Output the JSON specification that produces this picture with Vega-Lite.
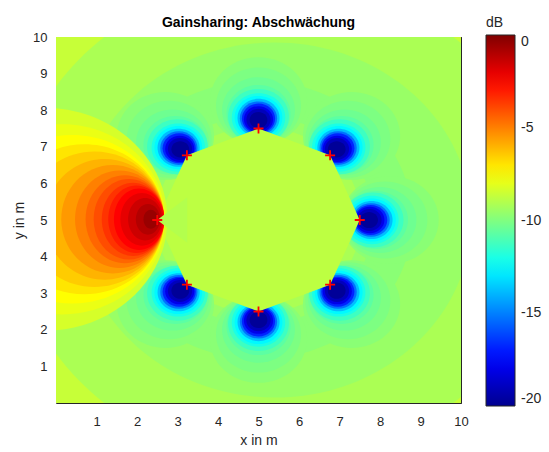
{
"$schema":"https://vega.github.io/schema/vega-lite/v6.json",
"width":405,"height":366,
"autosize":{"type":"none"},
"padding":{"left":56,"top":37,"right":88,"bottom":49},
"background":"white",
"title":{"text":"Gainsharing: Abschwächung","fontSize":14,"fontWeight":"bold","font":"Liberation Sans","color":"#000000","offset":8,"dy":22,"anchor":"middle"},
"datasets":{
"h1":[{"x":8.25,"y":5,"v":-9.8},{"x":7.298,"y":7.298,"v":-9.8},{"x":5,"y":8.25,"v":-9.8},{"x":2.702,"y":7.298,"v":-9.8},{"x":2.702,"y":2.702,"v":-9.8},{"x":5,"y":1.75,"v":-9.8},{"x":7.298,"y":2.702,"v":-9.8}],
"h2":[{"x":8.12,"y":5,"v":-10.05},{"x":7.206,"y":7.206,"v":-10.05},{"x":5,"y":8.12,"v":-10.05},{"x":2.794,"y":7.206,"v":-10.05},{"x":2.794,"y":2.794,"v":-10.05},{"x":5,"y":1.88,"v":-10.05},{"x":7.206,"y":2.794,"v":-10.05}],
"h3":[{"x":8,"y":5,"v":-10.35},{"x":7.122,"y":7.122,"v":-10.35},{"x":5,"y":8,"v":-10.35},{"x":2.878,"y":7.122,"v":-10.35},{"x":2.878,"y":2.878,"v":-10.35},{"x":5,"y":2,"v":-10.35},{"x":7.122,"y":2.878,"v":-10.35}],
"h4":[{"x":7.9,"y":5,"v":-10.7},{"x":7.051,"y":7.051,"v":-10.7},{"x":5,"y":7.9,"v":-10.7},{"x":2.949,"y":7.051,"v":-10.7},{"x":2.949,"y":2.949,"v":-10.7},{"x":5,"y":2.1,"v":-10.7},{"x":7.051,"y":2.949,"v":-10.7}],
"h5":[{"x":7.83,"y":5,"v":-11.3},{"x":7.001,"y":7.001,"v":-11.3},{"x":5,"y":7.83,"v":-11.3},{"x":2.999,"y":7.001,"v":-11.3},{"x":2.999,"y":2.999,"v":-11.3},{"x":5,"y":2.17,"v":-11.3},{"x":7.001,"y":2.999,"v":-11.3}],
"h6":[{"x":7.8,"y":5,"v":-12.0},{"x":6.98,"y":6.98,"v":-12.0},{"x":5,"y":7.8,"v":-12.0},{"x":3.02,"y":6.98,"v":-12.0},{"x":3.02,"y":3.02,"v":-12.0},{"x":5,"y":2.2,"v":-12.0},{"x":6.98,"y":3.02,"v":-12.0}],
"h7":[{"x":7.8,"y":5,"v":-12.6},{"x":6.98,"y":6.98,"v":-12.6},{"x":5,"y":7.8,"v":-12.6},{"x":3.02,"y":6.98,"v":-12.6},{"x":3.02,"y":3.02,"v":-12.6},{"x":5,"y":2.2,"v":-12.6},{"x":6.98,"y":3.02,"v":-12.6}],
"h8":[{"x":7.79,"y":5,"v":-13.8},{"x":6.973,"y":6.973,"v":-13.8},{"x":5,"y":7.79,"v":-13.8},{"x":3.027,"y":6.973,"v":-13.8},{"x":3.027,"y":3.027,"v":-13.8},{"x":5,"y":2.21,"v":-13.8},{"x":6.973,"y":3.027,"v":-13.8}],
"h9":[{"x":7.78,"y":5,"v":-15.3},{"x":6.966,"y":6.966,"v":-15.3},{"x":5,"y":7.78,"v":-15.3},{"x":3.034,"y":6.966,"v":-15.3},{"x":3.034,"y":3.034,"v":-15.3},{"x":5,"y":2.22,"v":-15.3},{"x":6.966,"y":3.034,"v":-15.3}],
"h10":[{"x":7.77,"y":5,"v":-16.8},{"x":6.959,"y":6.959,"v":-16.8},{"x":5,"y":7.77,"v":-16.8},{"x":3.041,"y":6.959,"v":-16.8},{"x":3.041,"y":3.041,"v":-16.8},{"x":5,"y":2.23,"v":-16.8},{"x":6.959,"y":3.041,"v":-16.8}],
"h11":[{"x":7.75,"y":5,"v":-18.0},{"x":6.945,"y":6.945,"v":-18.0},{"x":5,"y":7.75,"v":-18.0},{"x":3.055,"y":6.945,"v":-18.0},{"x":3.055,"y":3.055,"v":-18.0},{"x":5,"y":2.25,"v":-18.0},{"x":6.945,"y":3.055,"v":-18.0}],
"h12":[{"x":7.74,"y":5,"v":-19.0},{"x":6.938,"y":6.938,"v":-19.0},{"x":5,"y":7.74,"v":-19.0},{"x":3.062,"y":6.938,"v":-19.0},{"x":3.062,"y":3.062,"v":-19.0},{"x":5,"y":2.26,"v":-19.0},{"x":6.938,"y":3.062,"v":-19.0}],
"h13":[{"x":7.73,"y":5,"v":-19.8},{"x":6.931,"y":6.931,"v":-19.8},{"x":5,"y":7.73,"v":-19.8},{"x":3.069,"y":6.931,"v":-19.8},{"x":3.069,"y":3.069,"v":-19.8},{"x":5,"y":2.27,"v":-19.8},{"x":6.931,"y":3.069,"v":-19.8}],
"sensors":[{"x":7.5,"y":5},{"x":6.768,"y":6.768},{"x":5,"y":7.5},{"x":3.232,"y":6.768},{"x":2.5,"y":5},{"x":3.232,"y":3.232},{"x":5,"y":2.5},{"x":6.768,"y":3.232}]
},
"layer":[
{
"encoding":{
"x":{"field":"x","type":"quantitative","scale":{"domain":[0,10],"nice":false,"zero":false},"axis":{"values":[1,2,3,4,5,6,7,8,9,10],"title":"x in m","labelPadding":17,"titlePadding":5,"labelFlush":false}},
"y":{"field":"y","type":"quantitative","scale":{"domain":[0,10],"nice":false,"zero":false},"axis":{"values":[1,2,3,4,5,6,7,8,9,10],"title":"y in m","labelPadding":14,"titlePadding":6,"labelFlush":false}},
"color":{"field":"v","type":"quantitative","scale":{"domain":[-20,-17.5,-12.5,-7.5,-2.5,0],"range":["#00008f","#0000ff","#00ffff","#ffff00","#ff0000","#800000"],"interpolate":"rgb"},
"legend":{"title":"dB","orient":"none","legendX":430,"legendY":-21,"direction":"vertical","gradientLength":371,"gradientThickness":29,"values":[0,-5,-10,-15,-20],"labelExpr":"''+datum.value","labelFontSize":14,"labelColor":"#262626","labelOffset":6,"labelBaseline":"middle","labelOverlap":false,"titleFontSize":14,"titleFontWeight":"normal","titleColor":"#262626","titleAnchor":"start","titlePadding":5,"gradientStrokeColor":"#262626","gradientStrokeWidth":1}}
},
"layer":[
{"data":{"values":[{"x":0,"x2":10,"y":0,"y2":10,"v":-8.6}]},"mark":{"type":"rect","clip":true},"encoding":{"x2":{"field":"x2"},"y2":{"field":"y2"}}},
{"data":{"values":[{"x":5.5,"y":5,"v":-9.15}]},"mark":{"type":"point","shape":"M-1 0A1 0.9037 0 1 0 1 0A1 0.9037 0 1 0 -1 0Z","size":285797,"filled":true,"opacity":1,"strokeWidth":0,"clip":true}},
{"data":{"values":[{"x":5.4,"y":5,"v":-9.5}]},"mark":{"type":"point","shape":"M-1 0A1 0.9037 0 1 0 1 0A1 0.9037 0 1 0 -1 0Z","size":154331,"filled":true,"opacity":1,"strokeWidth":0,"clip":true}},
{"data":{"values":[{"x":5,"y":5,"v":-9.8}]},"mark":{"type":"point","shape":"M-1 0A1 0.9037 0 1 0 1 0A1 0.9037 0 1 0 -1 0Z","size":94741,"filled":true,"opacity":1,"strokeWidth":0,"clip":true}},
{"data":{"values":[{"x":5,"y":5,"v":-9.5}]},"mark":{"type":"point","shape":"M-1 0A1 0.9037 0 1 0 1 0A1 0.9037 0 1 0 -1 0Z","size":53292,"filled":true,"opacity":1,"strokeWidth":0,"clip":true}},
{"data":{"values":[{"x":5,"y":5,"v":-9.15}]},"mark":{"type":"point","shape":"M1 0L0.7071 -0.639L0 -0.9037L-0.7071 -0.639L-1 0L-0.7071 0.639L0 0.9037L0.7071 0.639Z","size":49618,"filled":true,"opacity":1,"strokeWidth":0,"clip":true}},
{"data":{"name":"h1"},"mark":{"type":"point","shape":"M-1 0A1 0.9037 0 1 0 1 0A1 0.9037 0 1 0 -1 0Z","size":9448,"filled":true,"opacity":1,"strokeWidth":0,"clip":true}},
{"data":{"name":"h2"},"mark":{"type":"point","shape":"M-1 0A1 0.9037 0 1 0 1 0A1 0.9037 0 1 0 -1 0Z","size":7234,"filled":true,"opacity":1,"strokeWidth":0,"clip":true}},
{"data":{"name":"h3"},"mark":{"type":"point","shape":"M-1 0A1 0.9037 0 1 0 1 0A1 0.9037 0 1 0 -1 0Z","size":5314,"filled":true,"opacity":1,"strokeWidth":0,"clip":true}},
{"data":{"name":"h4"},"mark":{"type":"point","shape":"M-1 0A1 0.9037 0 1 0 1 0A1 0.9037 0 1 0 -1 0Z","size":4100,"filled":true,"opacity":1,"strokeWidth":0,"clip":true}},
{"data":{"name":"h5"},"mark":{"type":"point","shape":"M-1 0A1 0.9037 0 1 0 1 0A1 0.9037 0 1 0 -1 0Z","size":3691,"filled":true,"opacity":1,"strokeWidth":0,"clip":true}},
{"data":{"name":"h6"},"mark":{"type":"point","shape":"M-1 0A1 0.9037 0 1 0 1 0A1 0.9037 0 1 0 -1 0Z","size":2858,"filled":true,"opacity":1,"strokeWidth":0,"clip":true}},
{"data":{"name":"h7"},"mark":{"type":"point","shape":"M-1 0A1 0.9037 0 1 0 1 0A1 0.9037 0 1 0 -1 0Z","size":2284,"filled":true,"opacity":1,"strokeWidth":0,"clip":true}},
{"data":{"name":"h8"},"mark":{"type":"point","shape":"M-1 0A1 0.9037 0 1 0 1 0A1 0.9037 0 1 0 -1 0Z","size":1774,"filled":true,"opacity":1,"strokeWidth":0,"clip":true}},
{"data":{"name":"h9"},"mark":{"type":"point","shape":"M-1 0A1 0.9037 0 1 0 1 0A1 0.9037 0 1 0 -1 0Z","size":1388,"filled":true,"opacity":1,"strokeWidth":0,"clip":true}},
{"data":{"name":"h10"},"mark":{"type":"point","shape":"M-1 0A1 0.9037 0 1 0 1 0A1 0.9037 0 1 0 -1 0Z","size":1103,"filled":true,"opacity":1,"strokeWidth":0,"clip":true}},
{"data":{"name":"h11"},"mark":{"type":"point","shape":"M-1 0A1 0.9037 0 1 0 1 0A1 0.9037 0 1 0 -1 0Z","size":850,"filled":true,"opacity":1,"strokeWidth":0,"clip":true}},
{"data":{"name":"h12"},"mark":{"type":"point","shape":"M-1 0A1 0.9037 0 1 0 1 0A1 0.9037 0 1 0 -1 0Z","size":590,"filled":true,"opacity":1,"strokeWidth":0,"clip":true}},
{"data":{"name":"h13"},"mark":{"type":"point","shape":"M-1 0A1 0.9037 0 1 0 1 0A1 0.9037 0 1 0 -1 0Z","size":318,"filled":true,"opacity":1,"strokeWidth":0,"clip":true}},
{"data":{"values":[{"x":5,"y":5,"v":-8.8}]},"mark":{"type":"point","shape":"M1 0L0.7071 -0.639L0 -0.9037L-0.7071 -0.639L-1 0L-0.7071 0.639L0 0.9037L0.7071 0.639Z","size":41006,"filled":true,"opacity":1,"strokeWidth":0,"clip":true}},
{"data":{"values":[{"x":-0.3,"y":5.02,"v":-8.3}]},"mark":{"type":"point","shape":"M-1 0A1 0.9037 0 1 0 1 0A1 0.9037 0 1 0 -1 0Z","size":61034,"filled":true,"opacity":1,"strokeWidth":0,"clip":true}},
{"data":{"values":[{"x":0.15,"y":5.02,"v":-7.9}]},"mark":{"type":"point","shape":"M-1 0A1 0.921 0 1 0 1 0A1 0.921 0 1 0 -1 0Z","size":42663,"filled":true,"opacity":1,"strokeWidth":0,"clip":true}},
{"data":{"values":[{"x":0.4,"y":5.02,"v":-7.5}]},"mark":{"type":"point","shape":"M-1 0A1 0.916 0 1 0 1 0A1 0.916 0 1 0 -1 0Z","size":33808,"filled":true,"opacity":1,"strokeWidth":0,"clip":true}},
{"data":{"values":[{"x":0.7,"y":5.02,"v":-7.0}]},"mark":{"type":"point","shape":"M-1 0A1 0.94 0 1 0 1 0A1 0.94 0 1 0 -1 0Z","size":25463,"filled":true,"opacity":1,"strokeWidth":0,"clip":true}},
{"data":{"values":[{"x":0.95,"y":5.02,"v":-6.5}]},"mark":{"type":"point","shape":"M-1 0A1 0.972 0 1 0 1 0A1 0.972 0 1 0 -1 0Z","size":19410,"filled":true,"opacity":1,"strokeWidth":0,"clip":true}},
{"data":{"values":[{"x":1.2,"y":5.02,"v":-6.0}]},"mark":{"type":"point","shape":"M-1 0A1 1.014 0 1 0 1 0A1 1.014 0 1 0 -1 0Z","size":14178,"filled":true,"opacity":1,"strokeWidth":0,"clip":true}},
{"data":{"values":[{"x":1.4,"y":5.02,"v":-5.5}]},"mark":{"type":"point","shape":"M-1 0A1 1.053 0 1 0 1 0A1 1.053 0 1 0 -1 0Z","size":10582,"filled":true,"opacity":1,"strokeWidth":0,"clip":true}},
{"data":{"values":[{"x":1.57,"y":5.02,"v":-5.0}]},"mark":{"type":"point","shape":"M-1 0A1 1.093 0 1 0 1 0A1 1.093 0 1 0 -1 0Z","size":7939,"filled":true,"opacity":1,"strokeWidth":0,"clip":true}},
{"data":{"values":[{"x":1.7,"y":5.02,"v":-4.5}]},"mark":{"type":"point","shape":"M-1 0A1 1.118 0 1 0 1 0A1 1.118 0 1 0 -1 0Z","size":6173,"filled":true,"opacity":1,"strokeWidth":0,"clip":true}},
{"data":{"values":[{"x":1.8,"y":5.02,"v":-4.0}]},"mark":{"type":"point","shape":"M-1 0A1 1.143 0 1 0 1 0A1 1.143 0 1 0 -1 0Z","size":4966,"filled":true,"opacity":1,"strokeWidth":0,"clip":true}},
{"data":{"values":[{"x":1.9,"y":5.02,"v":-3.5}]},"mark":{"type":"point","shape":"M-1 0A1 1.174 0 1 0 1 0A1 1.174 0 1 0 -1 0Z","size":3890,"filled":true,"opacity":1,"strokeWidth":0,"clip":true}},
{"data":{"values":[{"x":1.98,"y":5.02,"v":-3.0}]},"mark":{"type":"point","shape":"M-1 0A1 1.205 0 1 0 1 0A1 1.205 0 1 0 -1 0Z","size":3124,"filled":true,"opacity":1,"strokeWidth":0,"clip":true}},
{"data":{"values":[{"x":2.05,"y":5.02,"v":-2.5}]},"mark":{"type":"point","shape":"M-1 0A1 1.224 0 1 0 1 0A1 1.224 0 1 0 -1 0Z","size":2522,"filled":true,"opacity":1,"strokeWidth":0,"clip":true}},
{"data":{"values":[{"x":2.12,"y":5.02,"v":-2.0}]},"mark":{"type":"point","shape":"M-1 0A1 1.228 0 1 0 1 0A1 1.228 0 1 0 -1 0Z","size":1843,"filled":true,"opacity":1,"strokeWidth":0,"clip":true}},
{"data":{"values":[{"x":2.2,"y":5.02,"v":-1.5}]},"mark":{"type":"point","shape":"M-1 0A1 1.248 0 1 0 1 0A1 1.248 0 1 0 -1 0Z","size":1157,"filled":true,"opacity":1,"strokeWidth":0,"clip":true}},
{"data":{"values":[{"x":2.27,"y":5.02,"v":-1.0}]},"mark":{"type":"point","shape":"M-1 0A1 1.265 0 1 0 1 0A1 1.265 0 1 0 -1 0Z","size":590,"filled":true,"opacity":1,"strokeWidth":0,"clip":true}},
{"data":{"values":[{"x":2.34,"y":5.02,"v":-0.5}]},"mark":{"type":"point","shape":"M-1 0A1 1.305 0 1 0 1 0A1 1.305 0 1 0 -1 0Z","size":213,"filled":true,"opacity":1,"strokeWidth":0,"clip":true}},
{"data":{"values":[{"x":2.5,"y":5,"v":-9.0}]},"mark":{"type":"point","shape":"M0 0L1 -0.76L1 0.76Z","size":3600,"filled":true,"opacity":1,"strokeWidth":0,"clip":true}}
]
},
{
"data":{"name":"sensors"},
"mark":{"type":"point","shape":"M-1 0L1 0M0 -1L0 1","size":100,"filled":false,"color":"#ff0000","stroke":"#ff0000","strokeWidth":1.8,"opacity":1},
"encoding":{
"x":{"field":"x","type":"quantitative","scale":{"domain":[0,10],"nice":false,"zero":false},"axis":{"orient":"top","labels":false,"title":null,"values":[1,2,3,4,5,6,7,8,9,10]}},
"y":{"field":"y","type":"quantitative","scale":{"domain":[0,10],"nice":false,"zero":false},"axis":{"orient":"right","labels":false,"title":null,"values":[1,2,3,4,5,6,7,8,9,10]}}
}
}
],
"resolve":{"axis":{"x":"independent","y":"independent"}},
"config":{
"font":"Liberation Sans",
"view":{"stroke":null},
"axis":{"grid":false,"domainColor":"#262626","tickColor":"#262626","labelColor":"#262626","titleColor":"#262626","labelFontSize":13,"titleFontSize":14,"titleFontWeight":"normal","tickSize":-5,"tickWidth":1,"domainWidth":1,"labelFont":"Liberation Sans","titleFont":"Liberation Sans"},
"legend":{"padding":0,"offset":0}
}
}
